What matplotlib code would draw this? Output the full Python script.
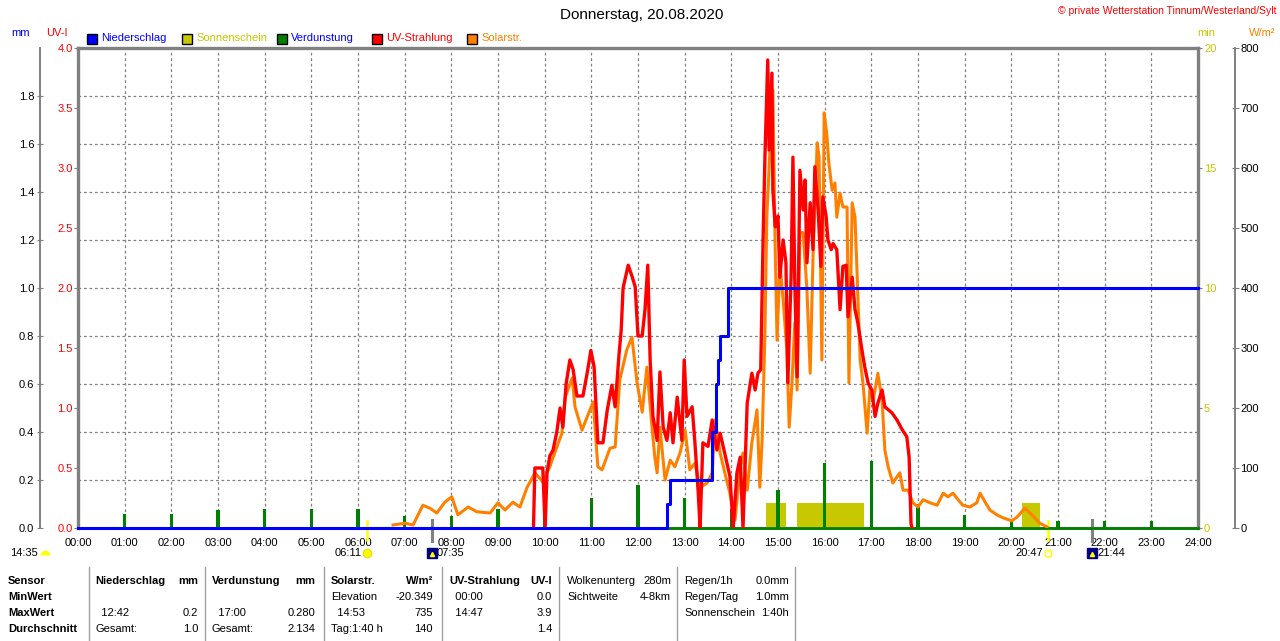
import matplotlib
matplotlib.use('Agg')
import matplotlib.pyplot as plt
import matplotlib.transforms as mtransforms
from matplotlib.patches import Rectangle
from matplotlib.lines import Line2D

plt.rcParams['font.family'] = ['Liberation Sans', 'DejaVu Sans']
plt.rcParams['font.size'] = 8

# ---- data ----------------------------------------------------------
# Niederschlag kumuliert (mm)
rain_time = [0.0, 12.62, 12.69, 13.59, 13.67, 13.71, 13.76, 13.93, 24.0]
rain_mm = [0.0, 0.1, 0.2, 0.4, 0.6, 0.7, 0.8, 1.0, 1.0]

# Verdunstung (mm) pro Stunde
evap_time = [1, 2, 3, 4, 5, 6, 7, 8, 9, 10, 11, 12, 13, 14, 15, 16, 17, 18,
             19, 20, 21, 22, 23]
evap_mm = [0.06, 0.06, 0.075, 0.08, 0.08, 0.08, 0.05, 0.05, 0.08, 0.08, 0.125,
           0.18, 0.125, 0.08, 0.16, 0.27, 0.28, 0.1, 0.055, 0.03, 0.03, 0.03,
           0.03]

# Sonnenschein (min)
sun_start = [14.74, 15.41, 20.23]
sun_end = [15.17, 16.84, 20.61]
sun_min = [1.05, 1.05, 1.05]

# UV-Strahlung (UV-I)
uv_time = [9.76, 9.79, 9.96, 10.01, 10.05, 10.11, 10.18, 10.26, 10.33, 10.39,
           10.46, 10.54, 10.61, 10.69, 10.82, 10.91, 10.99, 11.06, 11.14, 11.25,
           11.34, 11.44, 11.51, 11.59, 11.64, 11.68, 11.79, 11.87, 11.94, 12.00,
           12.09, 12.15, 12.21, 12.26, 12.32, 12.41, 12.47, 12.54, 12.62, 12.69,
           12.75, 12.84, 12.94, 12.99, 13.05, 13.16, 13.22, 13.29, 13.33, 13.39,
           13.50, 13.59, 13.69, 13.76, 13.86, 13.97, 14.04, 14.12, 14.19, 14.25,
           14.34, 14.44, 14.51, 14.57, 14.63, 14.68, 14.72, 14.78, 14.81, 14.87,
           14.89, 14.94, 15.00, 15.04, 15.11, 15.17, 15.21, 15.28, 15.32, 15.36,
           15.41, 15.47, 15.54, 15.58, 15.62, 15.69, 15.75, 15.79, 15.86, 15.92,
           15.96, 16.03, 16.07, 16.14, 16.18, 16.26, 16.33, 16.39, 16.46, 16.50,
           16.59, 16.65, 16.71, 16.80, 16.86, 16.93, 17.01, 17.08, 17.14, 17.23,
           17.29, 17.44, 17.55, 17.66, 17.76, 17.81, 17.85, 17.87]
uv_val = [0.0, 0.5, 0.5, 0.0, 0.46, 0.6, 0.65, 0.8, 1.0, 0.84,
          1.2, 1.4, 1.32, 1.1, 1.1, 1.29, 1.48, 1.34, 0.71, 0.71,
          0.98, 1.19, 1.01, 1.43, 1.65, 2.0, 2.19, 2.1, 2.01, 1.6,
          1.6, 1.82, 2.19, 1.4, 0.93, 0.73, 1.3, 0.84, 0.73, 0.96,
          0.71, 1.09, 0.73, 1.4, 0.93, 1.01, 0.71, 0.3, 0.0, 0.71,
          0.68, 0.9, 0.65, 0.79, 0.62, 0.43, 0.0, 0.46, 0.59, 0.0,
          1.04, 1.29, 1.15, 1.29, 1.32, 2.4, 3.09, 3.9, 3.15, 3.79,
          2.82, 2.51, 2.6, 2.09, 2.4, 2.21, 1.21, 2.09, 3.09, 2.04,
          1.26, 2.98, 2.65, 2.9, 2.21, 2.71, 2.32, 3.01, 2.65, 2.18,
          2.76, 2.6, 2.4, 2.32, 2.37, 2.32, 1.82, 2.18, 2.19, 1.76,
          2.09, 1.82, 1.71, 1.48, 1.34, 1.21, 1.15, 0.93, 1.04, 1.15,
          1.01, 0.96, 0.9, 0.82, 0.76, 0.59, 0.04, 0.0]

# Solarstrahlung (W/m2)
solar_time = [6.75, 7.01, 7.18, 7.39, 7.54, 7.69, 7.86, 8.01, 8.14, 8.36,
              8.55, 8.83, 9.00, 9.15, 9.32, 9.47, 9.62, 9.79, 9.96, 10.11,
              10.26, 10.37, 10.44, 10.59, 10.65, 10.80, 10.91, 11.04, 11.14, 11.23,
              11.40, 11.51, 11.61, 11.76, 11.87, 11.98, 12.09, 12.19, 12.30, 12.36,
              12.41, 12.47, 12.58, 12.69, 12.79, 12.90, 13.01, 13.11, 13.22, 13.33,
              13.48, 13.59, 13.65, 13.76, 13.86, 13.97, 14.08, 14.19, 14.25, 14.34,
              14.44, 14.55, 14.61, 14.66, 14.72, 14.76, 14.83, 14.89, 14.94, 14.98,
              15.04, 15.11, 15.19, 15.24, 15.30, 15.36, 15.41, 15.47, 15.54, 15.62,
              15.69, 15.75, 15.84, 15.88, 15.94, 15.99, 16.05, 16.09, 16.16, 16.22,
              16.26, 16.33, 16.39, 16.48, 16.52, 16.59, 16.65, 16.69, 16.76, 16.82,
              16.91, 16.97, 17.04, 17.14, 17.23, 17.29, 17.36, 17.46, 17.61, 17.68,
              17.79, 17.89, 18.00, 18.11, 18.26, 18.41, 18.54, 18.64, 18.75, 18.86,
              18.96, 19.11, 19.26, 19.33, 19.44, 19.54, 19.69, 19.82, 20.01, 20.12,
              20.29, 20.44, 20.61, 20.76]
solar_val = [5, 8, 5, 38, 33, 25, 43, 52, 22, 35,
             27, 25, 42, 30, 43, 35, 67, 92, 77, 102,
             135, 158, 218, 250, 202, 163, 185, 210, 102, 97,
             133, 135, 247, 297, 318, 242, 193, 268, 168, 118,
             92, 168, 80, 113, 102, 125, 163, 97, 108, 68,
             75, 92, 180, 125, 92, 58, 13, 102, 125, 63,
             142, 197, 68, 147, 325, 518, 635, 730, 463, 313,
             442, 380, 297, 168, 242, 342, 230, 493, 492, 397,
             258, 452, 642, 618, 280, 692, 652, 608, 563, 575,
             518, 558, 535, 535, 242, 542, 518, 435, 280, 242,
             158, 235, 213, 258, 213, 130, 102, 75, 92, 63,
             63, 42, 35, 47, 42, 38, 58, 52, 58, 47,
             38, 35, 42, 58, 43, 30, 22, 17, 12, 18,
             33, 22, 8, 2]

hours = list(range(25))
hour_labels = ['%02d:00' % h for h in hours]
mm_ticks = [0.0, 0.2, 0.4, 0.6, 0.8, 1.0, 1.2, 1.4, 1.6, 1.8]
uv_ticks = [0.0, 0.5, 1.0, 1.5, 2.0, 2.5, 3.0, 3.5, 4.0]
min_ticks = [0, 5, 10, 15, 20]
wm_ticks = [0, 100, 200, 300, 400, 500, 600, 700, 800]

astro_time = [6.183, 7.583, 20.783, 21.733]
astro_label = ['06:11', '07:35', '20:47', '21:44']
astro_kind = ['sunrise', 'moonrise', 'sunset', 'moonset']

legend_labels = ['Niederschlag', 'Sonnenschein', 'Verdunstung', 'UV-Strahlung', 'Solarstr.']
legend_box = ['#0000ff', '#c8c800', '#008000', '#ff0000', '#ff8000']
legend_text = ['#0000ff', '#c8c800', '#0000ff', '#ff0000', '#ff8000']

row_names = ['Sensor', 'MinWert', 'MaxWert', 'Durchschnitt']
stat_blocks = [
    [('Niederschlag', 'mm'), ('', ''), ('  12:42', '0.2'), ('Gesamt:', '1.0')],
    [('Verdunstung', 'mm'), ('', ''), ('  17:00', '0.280'), ('Gesamt:', '2.134')],
    [('Solarstr.', 'W/m²'), ('Elevation', '-20.349'), ('  14:53', '735'), ('Tag:1:40 h', '140')],
    [('UV-Strahlung', 'UV-I'), ('  00:00', '0.0'), ('  14:47', '3.9'), ('', '1.4')],
    [('Wolkenunterg', '280m'), ('Sichtweite', '4-8km')],
    [('Regen/1h', '0.0mm'), ('Regen/Tag', '1.0mm'), ('Sonnenschein', '1:40h')],
]

# ---- layout -------------------------------------------------------
W, H = 1280, 641
GRAY = '#808080'
YEL = '#c8c800'


def fx(px):
    return px / W


def fy(py):
    return 1 - py / H


fig = plt.figure(figsize=(12.8, 6.41), dpi=100)
fig.patch.set_facecolor('white')
ax = fig.add_axes([fx(78), fy(528), (1198 - 78) / W, (528 - 48) / H])
PT = 0.72  # points per pixel

# base axis: mm scale + grid
ax.set_xlim(0, 24)
ax.set_ylim(0, 2.0)
ax.set_xticks(hours)
ax.set_xticklabels(hour_labels)
ax.tick_params(axis='x', length=0, pad=7)
ax.set_yticks(mm_ticks)
ax.set_yticklabels(['%.1f' % v for v in mm_ticks], color='blue')
ax.tick_params(axis='y', direction='inout', length=6 * PT, color=GRAY, pad=2)
ax.spines['left'].set_position(('outward', 38 * PT))
ax.spines['left'].set_color(GRAY)
ax.spines['left'].set_linewidth(1.4)
ax.spines['right'].set_visible(False)
ax.spines['top'].set_color(GRAY)
ax.spines['top'].set_linewidth(2.4)
ax.spines['bottom'].set_color(GRAY)
ax.spines['bottom'].set_linewidth(2)
ax.grid(True, color=GRAY, linestyle=(0, (2.2, 2.2)), linewidth=0.9)
ax.set_axisbelow(True)
ax.set_zorder(1)


def hide_spines(a, keep=()):
    for k, s in a.spines.items():
        s.set_visible(k in keep)


# sunshine minutes
ax_min = ax.twinx()
ax_min.set_ylim(0, 20)
ax_min.set_yticks(min_ticks)
ax_min.set_yticklabels([str(v) for v in min_ticks], color=YEL)
ax_min.tick_params(axis='y', direction='out', length=4 * PT, color=GRAY, pad=1.5)
hide_spines(ax_min, ('right',))
ax_min.spines['right'].set_color(GRAY)
ax_min.spines['right'].set_linewidth(2.4)
sun_width = [e - s for s, e in zip(sun_start, sun_end)]
ax_min.bar(sun_start, sun_min, width=sun_width, align='edge', color=YEL, linewidth=0)
ax_min.set_zorder(2)

# evaporation
ax_ev = ax.twinx()
ax_ev.set_ylim(0, 2.0)
ax_ev.yaxis.set_visible(False)
hide_spines(ax_ev)
ax_ev.bar(evap_time, evap_mm, width=0.07, color='#008000', linewidth=0)
ax_ev.axhline(0, color='#008000', linewidth=2, clip_on=False)
ax_ev.set_zorder(3)

# solar radiation
ax_sol = ax.twinx()
ax_sol.set_ylim(0, 800)
ax_sol.set_yticks(wm_ticks)
ax_sol.set_yticklabels([str(v) for v in wm_ticks], color='#ff8000')
ax_sol.tick_params(axis='y', direction='inout', length=7 * PT, color=GRAY, pad=1.5)
hide_spines(ax_sol, ('right',))
ax_sol.spines['right'].set_position(('outward', 37 * PT))
ax_sol.spines['right'].set_color(GRAY)
ax_sol.spines['right'].set_linewidth(1.4)
ax_sol.plot(solar_time, solar_val, color='#ff8000', linewidth=2.2)
ax_sol.set_zorder(4)

# UV index
ax_uv = ax.twinx()
ax_uv.set_ylim(0, 4.0)
ax_uv.yaxis.tick_left()
ax_uv.set_yticks(uv_ticks)
ax_uv.set_yticklabels(['%.1f' % v for v in uv_ticks], color='red')
ax_uv.tick_params(axis='y', direction='out', length=4 * PT, color=GRAY, pad=1)
hide_spines(ax_uv, ('left',))
ax_uv.spines['left'].set_color(GRAY)
ax_uv.spines['left'].set_linewidth(2.4)
ax_uv.plot(uv_time, uv_val, color='#ff0000', linewidth=2.4)
ax_uv.set_zorder(5)

# precipitation
ax_rain = ax.twinx()
ax_rain.set_ylim(0, 2.0)
ax_rain.yaxis.set_visible(False)
hide_spines(ax_rain)
ax_rain.plot(rain_time, rain_mm, color='#0000ff', linewidth=2.2,
             drawstyle='steps-post', clip_on=False)
ax_rain.set_zorder(6)

# ---- header texts --------------------------------------------------
fig.text(fx(642), fy(15), 'Donnerstag, 20.08.2020', ha='center', va='center', size=11)
fig.text(fx(1276), fy(11), '© private Wetterstation Tinnum/Westerland/Sylt',
         ha='right', va='center', color='red', size=7.5)
fig.text(fx(21), fy(33), 'mm', ha='center', va='center', color='blue')
fig.text(fx(57), fy(33), 'UV-I', ha='center', va='center', color='red')
fig.text(fx(1206), fy(33), 'min', ha='center', va='center', color=YEL)
fig.text(fx(1262), fy(33), 'W/m²', ha='center', va='center', color='#ff8000')

for i, (lab, bc, tc) in enumerate(zip(legend_labels, legend_box, legend_text)):
    x0 = 87 + 95 * i
    fig.add_artist(Rectangle((fx(x0), fy(44)), 10 / W, 10 / H, transform=fig.transFigure,
                             facecolor=bc, edgecolor='black', linewidth=1))
    fig.text(fx(x0 + 14), fy(38), lab, ha='left', va='center', color=tc)

# ---- sun / moon markers below the axis -----------------------------
trans = mtransforms.blended_transform_factory(ax.transData, fig.transFigure)
for t, lab, kind in zip(astro_time, astro_label, astro_kind):
    if kind.startswith('sun'):
        fig.add_artist(Line2D([t, t], [fy(521), fy(540)], transform=trans,
                              color='#ffff00', linewidth=1.8))
        if kind == 'sunrise':
            fig.add_artist(Line2D([t], [fy(553)], transform=trans, marker='o',
                                  markersize=6, color='#ffff00', markeredgecolor='#f0e000'))
        else:
            fig.add_artist(Line2D([t], [fy(553)], transform=trans, marker='s',
                                  markersize=5, markerfacecolor='none',
                                  markeredgecolor='#ffff00'))
        ax.annotate(lab, xy=(t, fy(553)), xycoords=trans, xytext=(-5, 0),
                    textcoords='offset pixels', ha='right', va='center',
                    annotation_clip=False)
    else:
        fig.add_artist(Line2D([t, t], [fy(520), fy(541)], transform=trans,
                              color=GRAY, linewidth=2.2))
        fig.add_artist(Line2D([t], [fy(553)], transform=trans, marker='s',
                              markersize=7, color='#000080'))
        fig.add_artist(Line2D([t], [fy(554)], transform=trans, marker='^',
                              markersize=3, color='#ffff00'))
        ax.annotate(lab, xy=(t, fy(553)), xycoords=trans, xytext=(5, 0),
                    textcoords='offset pixels', ha='left', va='center',
                    annotation_clip=False)

fig.text(fx(10), fy(553), '14:35', ha='left', va='center')
fig.add_artist(Line2D([fx(45)], [fy(555)], transform=fig.transFigure, marker='o',
                      markersize=7, fillstyle='top', markerfacecolor='#ffff00',
                      markerfacecoloralt='none', markeredgecolor='none'))

# ---- statistics table ---------------------------------------------
row_y = [581, 597, 613, 629]
for name, y in zip(row_names, row_y):
    fig.text(fx(8), fy(y), name, ha='left', va='center', weight='bold')

block_left = [95, 212, 331, 449, 567, 684]
block_right = [198, 315, 433, 552, 671, 789]
separators = [89, 205, 324, 442, 559, 677, 795]
for sx in separators:
    fig.add_artist(Line2D([fx(sx), fx(sx)], [fy(567), fy(641)],
                          transform=fig.transFigure, color='#a0a0a0', linewidth=1))

for b, rows in enumerate(stat_blocks):
    bold_head = b < 4
    for r, (left, right) in enumerate(rows):
        w = 'bold' if (bold_head and r == 0) else 'normal'
        fig.text(fx(block_left[b]), fy(row_y[r]), left, ha='left', va='center', weight=w)
        fig.text(fx(block_right[b]), fy(row_y[r]), right, ha='right', va='center', weight=w)

fig.savefig('out.png', dpi=100, facecolor='white')
